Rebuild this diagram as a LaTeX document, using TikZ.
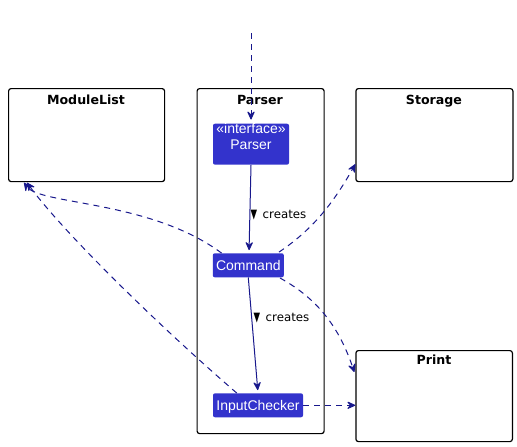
\documentclass[tikz,border=0pt]{standalone}
\usepackage{fontspec}
\usepackage{graphicx}
\setmainfont{Liberation Sans}
\newfontfamily\dvs{DejaVu Sans}
\usetikzlibrary{arrows.meta,calc}
\definecolor{nodefill}{RGB}{51,51,204}
\definecolor{arrowc}{RGB}{24,24,140}
\newcommand{\dirmark}{\scalebox{0.72}[1.1]{▼}}
\begin{document}
\begin{tikzpicture}[x=1pt,y=-1pt,
  pkg/.style={draw=black, line width=1.2pt, rounded corners=2.5pt, inner sep=0pt, anchor=north west},
  cls/.style={fill=nodefill, text=white, rounded corners=2pt, inner sep=0pt,
    font=\fontsize{14}{16}\selectfont, text height=9.5pt, text depth=0pt},
  ttl/.style={font=\dvs\bfseries\fontsize{12.6}{14}\selectfont, anchor=base, inner sep=0pt},
  lbl/.style={font=\dvs\fontsize{11.8}{13}\selectfont, anchor=base west, inner sep=0pt},
  tipst/.style={-{Stealth[length=10pt,width=9pt,inset=4pt,round]}},
  dep/.style={draw=arrowc, line width=1pt, dash pattern=on 6pt off 5pt, tipst},
  assoc/.style={draw=arrowc, line width=1pt, tipst}
]
\useasboundingbox (0,0) rectangle (517,447);
\fill[white] (0,0) rectangle (517,447);

% packages
\node[pkg, minimum width=156pt, minimum height=93pt] (ml) at (8,88) {};
\node[pkg, minimum width=127pt, minimum height=345pt] (pp) at (196.5,88) {};
\node[pkg, minimum width=157pt, minimum height=93pt] (st) at (355.3,88) {};
\node[pkg, minimum width=156.5pt, minimum height=91pt] (pr) at (355.3,350) {};

\node[ttl] (mlt) at (86,104) {ModuleList};
\node[ttl] (ppt) at (260,104) {Parser};
\node[ttl] (stt) at (434,104) {Storage};
\node[ttl] (prt) at (434,364.5) {Print};

% classes
\node[cls, minimum width=76pt, minimum height=41pt, align=center, text height=10.2pt] (ip) at (251,144.2) {«interface»\\Parser};
\node[cls, minimum width=71pt, minimum height=24pt] (cmd) at (248.3,265.3) {Command};
\node[cls, minimum width=90pt, minimum height=24pt] (ic) at (258,405.3) {InputChecker};

\coordinate (top) at (251,33);

% connectors
\draw[dep, shorten >=4pt] (top) -- (ip.north);
\draw[assoc, shorten >=3pt] (ip.south) -- ($(cmd.north)+(0.7,0)$);
\draw[assoc, shorten >=3pt] (cmd.south) -- (ic.north);

\draw[dep] ($(cmd.north west)+(9,0)$) .. controls (150,200) and (40,205) .. ($(ml.south west)+(16,0.5)$);
\draw[dep] ($(ic.north west)+(24,0)$) .. controls (150,318) and (60,228) .. ($(ml.south west)+(19,0.5)$);
\draw[dep] ($(cmd.north east)+(-5,-1)$) .. controls (315,228) and (335,200) .. ($(st.south west)+(0,-18)$);
\draw[dep] ($(cmd.south east)+(-4,0.5)$) .. controls (320,300) and (340,330) .. ($(pr.north west)+(-1,22)$);
\draw[dep] (ic.east) -- (pr.west |- ic.east);

% labels
\node[lbl] (l1) at (250.5,218.3) {\dirmark\hspace{5.5pt}creates};
\node[lbl] (l2) at (253.5,321.7) {\dirmark\hspace{5.5pt}creates};
\end{tikzpicture}
\end{document}
